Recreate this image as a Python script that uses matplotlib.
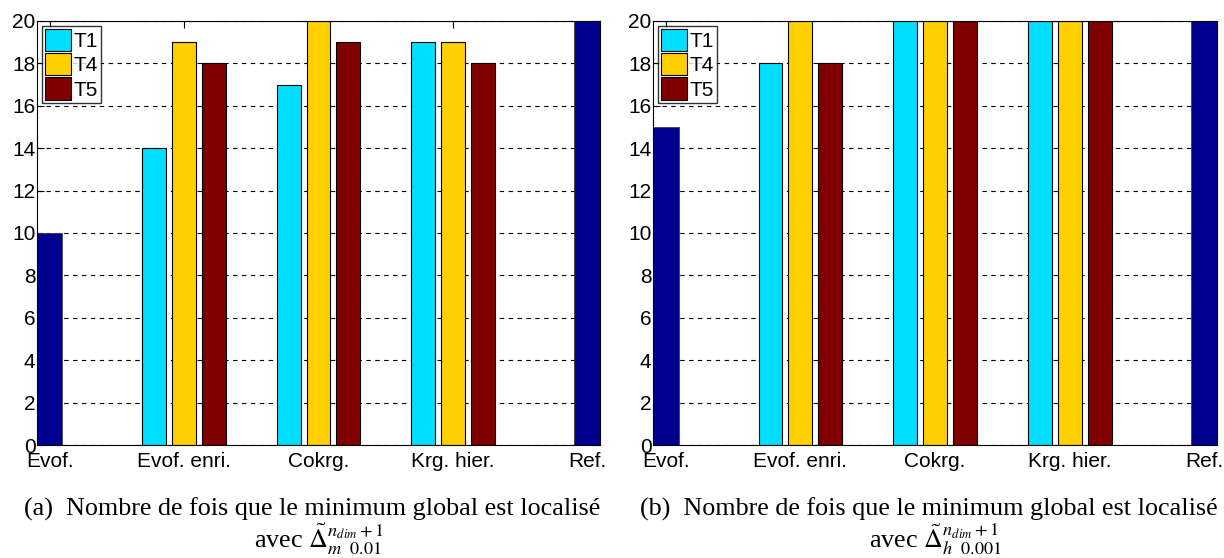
import matplotlib
matplotlib.use("Agg")
import matplotlib.pyplot as plt
import numpy as np

# Categories on the x axis
categories = ["Evof.", "Evof. enri.", "Cokrg.", "Krg. hier.", "Ref."]
series_names = ["T1", "T4", "T5"]

# (a) single bars for the reference methods, grouped bars for the others
a_single = {"Evof.": 10, "Ref.": 20}
a_T1 = [14, 17, 19]
a_T4 = [19, 20, 19]
a_T5 = [18, 19, 18]

# (b)
b_single = {"Evof.": 15, "Ref.": 20}
b_T1 = [18, 20, 20]
b_T4 = [20, 20, 20]
b_T5 = [18, 20, 20]

captions = [
    ("(a)  Nombre de fois que le minimum global est localisé",
     r"avec $\tilde{\Delta}^{n_{dim}+1}_{m\ \ \mathrm{0.01}}$"),
    ("(b)  Nombre de fois que le minimum global est localisé",
     r"avec $\tilde{\Delta}^{n_{dim}+1}_{h\ \ \mathrm{0.001}}$"),
]

colors = ["#00DFFF", "#FFCF00", "#800000"]
navy = "#00008F"

plt.rcParams["font.family"] = ["Liberation Sans", "DejaVu Sans"]
plt.rcParams["mathtext.fontset"] = "stix"

fig = plt.figure(figsize=(12.24, 5.58), dpi=100)
positions = [[0.0302, 0.2025, 0.460, 0.760], [0.5335, 0.2025, 0.4608, 0.760]]

single_w = 0.19
group_off = 0.2222
bar_w = 0.178


def draw(ax, single, s1, s2, s3):
    x = np.arange(1, len(categories) + 1)
    grouped_idx = [i for i, c in enumerate(categories) if c not in single]
    gx = x[grouped_idx]
    for k, (vals, col, name) in enumerate(zip([s1, s2, s3], colors, series_names)):
        ax.bar(gx + (k - 1) * group_off, vals, width=bar_w, color=col,
               edgecolor="black", linewidth=0.8, label=name, zorder=2)
    for c, v in single.items():
        i = categories.index(c)
        ax.bar(x[i], v, width=single_w, color=navy, edgecolor="#404040",
               linewidth=0.6, zorder=2)
    ax.set_xlim(1 - single_w / 2, len(categories) + single_w / 2)
    ax.set_ylim(0, 20)
    ax.set_yticks(np.arange(0, 21, 2))
    ax.set_xticks(x)
    ax.set_xticklabels(categories)
    ax.set_axisbelow(True)
    ax.yaxis.grid(True, linestyle=(0, (4, 4)), color="black", linewidth=0.8)
    ax.tick_params(direction="in", top=True, right=True, labelsize=15,
                   length=5, width=0.8, pad=1)
    ax.tick_params(axis="x", pad=5)
    for sp in ax.spines.values():
        sp.set_linewidth(0.8)
    leg = ax.legend(loc="upper left", fontsize=15, frameon=True, fancybox=False,
                    handlelength=1.25, handleheight=1.25, handletextpad=0.1,
                    borderpad=0.15, labelspacing=0.1, borderaxespad=0.25)
    leg.get_frame().set_edgecolor("black")
    leg.get_frame().set_linewidth(1.0)


data = [(a_single, a_T1, a_T4, a_T5), (b_single, b_T1, b_T4, b_T5)]
for pos, d, (cap1, cap2) in zip(positions, data, captions):
    ax = fig.add_axes(pos)
    draw(ax, *d)
    cx = pos[0] + pos[2] / 2
    fig.text(cx - 0.005, 1 - 516 / 558, cap1, ha="center", va="baseline",
             fontsize=18.8, family=["Liberation Serif", "DejaVu Serif"])
    fig.text(cx, 1 - 548 / 558, cap2, ha="center", va="baseline",
             fontsize=18.8, family=["Liberation Serif", "DejaVu Serif"])

fig.savefig("out.png", dpi=100)
